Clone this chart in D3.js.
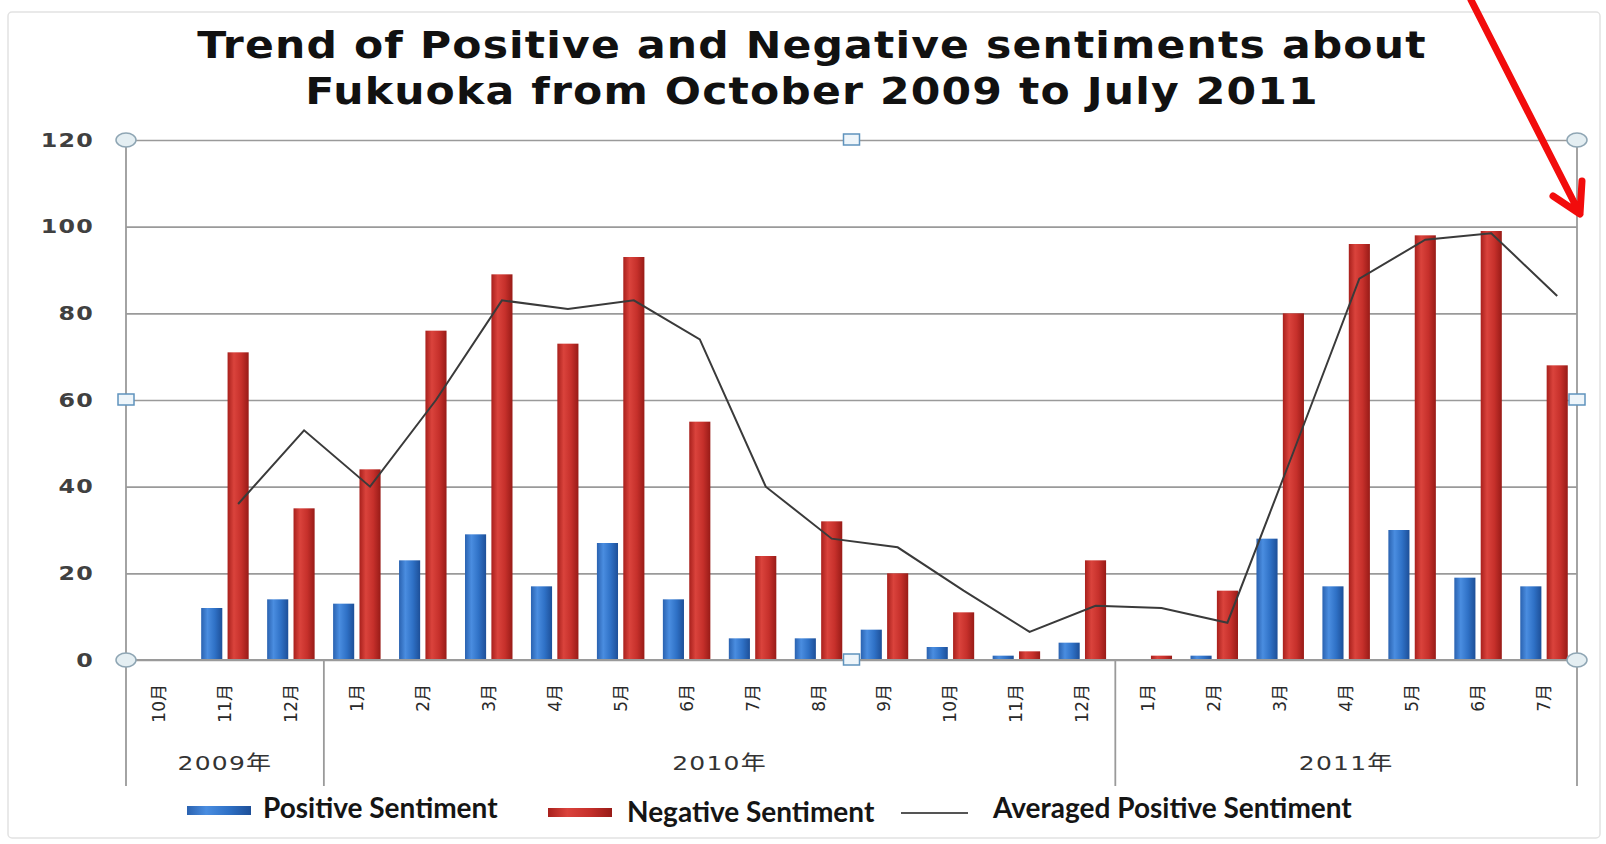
<!DOCTYPE html>
<html>
<head>
<meta charset="utf-8">
<script src="https://cdn.jsdelivr.net/npm/d3@7"></script>
<style>
  body { margin: 0; background: #fff; }
  svg { display: block; }
</style>
</head>
<body>
<div class="chart"></div>
<script>
(function(){

    // data
    var months = ["10月","11月","12月","1月","2月","3月","4月","5月","6月","7月","8月","9月","10月","11月","12月","1月","2月","3月","4月","5月","6月","7月"]
    var yearLabels = ["2009年","2010年","2011年"]
    var yearSpans = [3, 12, 7]
    var positive = [0,12,14,13,23,29,17,27,14,5,5,7,3,1,4,0,1,28,17,30,19,17]
    var negative = [0,71,35,44,76,89,73,93,55,24,32,20,11,2,23,1,16,80,96,98,99,68]
    var averaged = [null,36,53,40,60,83,81,83,74,40,28,26,16,6.5,12.5,12,8.6,48,88,97,98.5,84]
    var yTicks = [0,20,40,60,80,100,120]
    var titleLines = ["Trend of Positive and Negative sentiments about", "Fukuoka from October 2009 to July 2011"]
    var legendLabels = ["Positive Sentiment", "Negative Sentiment", "Averaged Positive Sentiment"]

    var width = 1606, height = 844
    var margin = {top: 140, left: 126, right: 29, bottom: 184}
    var chartWidth = width - margin.left - margin.right
    var chartHeight = height - margin.top - margin.bottom

    var svg = d3.select(".chart").append("svg")
        .attr("width", width).attr("height", height)

    var defs = svg.append("defs")
    function grad(id, stops) {
        var g = defs.append("linearGradient").attr("id", id)
            .attr("x1", "0%").attr("x2", "100%").attr("y1", "0%").attr("y2", "0%")
        stops.forEach(function(s){
            g.append("stop").attr("offset", s[0]).attr("stop-color", s[1])
        })
    }
    grad("gBlue", [["0%","#2a62b0"],["30%","#4a8de0"],["65%","#2f71c6"],["100%","#1d4f98"]])
    grad("gRed", [["0%","#a8201c"],["30%","#da433c"],["65%","#c6302b"],["100%","#981b17"]])

    // faint outer frame
    svg.append("rect")
        .attr("x", 8).attr("y", 12).attr("width", 1592).attr("height", 826)
        .attr("rx", 4)
        .attr("fill", "none").attr("stroke", "#e2e2e2").attr("stroke-width", 1.5)

    var idx = d3.range(months.length)

    var x = d3.scaleBand().domain(idx).range([0, chartWidth])
        .paddingInner(0.28).paddingOuter(0.14)
    var xSub = d3.scaleBand().domain(["pos","neg"]).range([0, x.bandwidth()])
        .paddingInner(0.2).paddingOuter(0)
    var y = d3.scaleLinear().domain([0, 120]).range([chartHeight, 0])

    var chartLayer = svg.append("g")
        .attr("transform", "translate(" + [margin.left, margin.top] + ")")

    // title (wide, heavy face: stretched horizontally)
    svg.append("g").selectAll("text")
        .data(titleLines).enter().append("text")
        .attr("transform", function(d, i){ return "translate(812," + (58 + i * 46) + ") scale(1.15,1)" })
        .attr("text-anchor", "middle")
        .attr("font-family", "DejaVu Sans, Verdana, sans-serif")
        .attr("font-weight", "bold")
        .attr("font-size", 37)
        .attr("letter-spacing", 1)
        .attr("fill", "#111")
        .text(function(d){ return d })

    // gridlines + y labels
    var yAxis = d3.axisLeft(y)
        .tickValues(yTicks)
        .tickSize(-chartWidth)
        .tickPadding(30)
        .tickFormat(d3.format("d"))

    var yAxisElm = chartLayer.append("g").attr("class", "axis y").call(yAxis)
    yAxisElm.select(".domain").remove()
    yAxisElm.selectAll(".tick line")
        .attr("stroke", "#9a9a9a").attr("stroke-width", 1.6)
    yAxisElm.selectAll(".tick text")
        .attr("x", 0)
        .attr("transform", "translate(-32,0) scale(1.25,1)")
        .attr("font-family", "DejaVu Sans, Verdana, sans-serif")
        .attr("font-weight", "bold")
        .attr("font-size", 19)
        .attr("letter-spacing", 1)
        .attr("fill", "#404040")

    // vertical frame lines (left axis, right edge, year separators)
    var sepX = [0, chartWidth]
    var acc = 0
    yearSpans.slice(0, -1).forEach(function(n){
        acc += n
        sepX.push(x.step() * acc + x.step() * x.paddingOuter() - x.step() * x.paddingInner() / 2)
    })
    chartLayer.append("g").selectAll("line")
        .data(sepX).enter().append("line")
        .attr("x1", function(d){ return d }).attr("x2", function(d){ return d })
        .attr("y1", function(d, i){ return i < 2 ? 0 : chartHeight })
        .attr("y2", chartHeight + 126)
        .attr("stroke", "#9a9a9a").attr("stroke-width", 1.8)

    // bars
    var groups = chartLayer.append("g").selectAll("g")
        .data(idx).enter().append("g")
        .attr("transform", function(i){ return "translate(" + x(i) + ",0)" })

    groups.append("rect")
        .attr("x", xSub("pos"))
        .attr("width", xSub.bandwidth())
        .attr("y", function(i){ return y(positive[i]) })
        .attr("height", function(i){ return chartHeight - y(positive[i]) })
        .attr("fill", "url(#gBlue)")

    groups.append("rect")
        .attr("x", xSub("neg"))
        .attr("width", xSub.bandwidth())
        .attr("y", function(i){ return y(negative[i]) })
        .attr("height", function(i){ return chartHeight - y(negative[i]) })
        .attr("fill", "url(#gRed)")

    // x axis line
    chartLayer.append("line")
        .attr("x1", 0).attr("x2", chartWidth)
        .attr("y1", chartHeight).attr("y2", chartHeight)
        .attr("stroke", "#9a9a9a").attr("stroke-width", 1.8)

    // averaged line
    var valueline = d3.line()
        .defined(function(d){ return d != null })
        .x(function(d, i){ return x(i) + xSub("neg") + xSub.bandwidth() / 2 })
        .y(function(d){ return y(d) })

    chartLayer.append("path")
        .datum(averaged)
        .attr("d", valueline)
        .attr("fill", "none")
        .attr("stroke", "#3a3a3a")
        .attr("stroke-width", 2)

    // month labels
    chartLayer.append("g").selectAll("text")
        .data(idx).enter().append("text")
        .attr("transform", function(i){
            return "translate(" + (x(i) + x.bandwidth() / 2 + 6) + "," + (chartHeight + 24) + ") rotate(-90)"
        })
        .attr("text-anchor", "end")
        .attr("font-family", "DejaVu Sans, 'Noto Sans CJK JP', sans-serif")
        .attr("font-size", 17)
        .attr("fill", "#2a2a2a")
        .text(function(i){ return months[i] })

    // year labels
    var start = 0
    var yearPos = yearSpans.map(function(n){
        var a = x.step() * start, b = x.step() * (start + n)
        start += n
        return (a + b) / 2 + x.step() * (x.paddingOuter() - x.paddingInner() / 2)
    })
    chartLayer.append("g").selectAll("text")
        .data(yearLabels).enter().append("text")
        .attr("transform", function(d, i){ return "translate(" + yearPos[i] + "," + (chartHeight + 110) + ") scale(1.25,1)" })
        .attr("text-anchor", "middle")
        .attr("font-family", "DejaVu Sans, 'Noto Sans CJK JP', sans-serif")
        .attr("font-size", 20)
        .attr("letter-spacing", 1)
        .attr("fill", "#333")
        .text(function(d){ return d })

    // selection handles of the plot area
    var handles = [[0,0,"c"],[chartWidth/2,0,"s"],[chartWidth,0,"c"],
                   [0,chartHeight/2,"s"],[chartWidth,chartHeight/2,"s"],
                   [0,chartHeight,"c"],[chartWidth/2,chartHeight,"s"],[chartWidth,chartHeight,"c"]]
    var hLayer = chartLayer.append("g")
    handles.forEach(function(h){
        if (h[2] === "c") {
            hLayer.append("ellipse").attr("cx", h[0]).attr("cy", h[1])
                .attr("rx", 10).attr("ry", 7)
                .attr("fill", "#e4eef2").attr("stroke", "#8fa6b4").attr("stroke-width", 1.5)
        } else {
            hLayer.append("rect").attr("x", h[0] - 8).attr("y", h[1] - 6)
                .attr("width", 16).attr("height", 11)
                .attr("fill", "#eef5fa").attr("stroke", "#5f93bd").attr("stroke-width", 1.5)
        }
    })

    // legend
    var legend = svg.append("g")
    var lx = [187, 548, 901]
    var tx = [263, 627, 993]
    legend.append("rect").attr("x", lx[0]).attr("y", 806).attr("width", 64).attr("height", 9).attr("fill", "url(#gBlue)")
    legend.append("rect").attr("x", lx[1]).attr("y", 808).attr("width", 64).attr("height", 9).attr("fill", "url(#gRed)")
    legend.append("line").attr("x1", lx[2]).attr("x2", lx[2] + 67).attr("y1", 813).attr("y2", 813)
        .attr("stroke", "#555").attr("stroke-width", 2)
    legend.selectAll("text").data(legendLabels).enter().append("text")
        .attr("x", function(d, i){ return tx[i] })
        .attr("y", function(d, i){ return i === 1 ? 822 : 818 })
        .attr("font-family", "Lato, sans-serif")
        .attr("font-weight", "bold")
        .attr("font-size", 28)
        .attr("fill", "#151515")
        .text(function(d){ return d })

    // red annotation arrow
    svg.append("path")
        .attr("d", "M1471,0 L1580,214 M1553,196 L1580,214 L1582,181")
        .attr("fill", "none")
        .attr("stroke", "#f20c0c")
        .attr("stroke-width", 7)
        .attr("stroke-linecap", "round")
        .attr("stroke-linejoin", "round")

}());
</script>
</body>
</html>
